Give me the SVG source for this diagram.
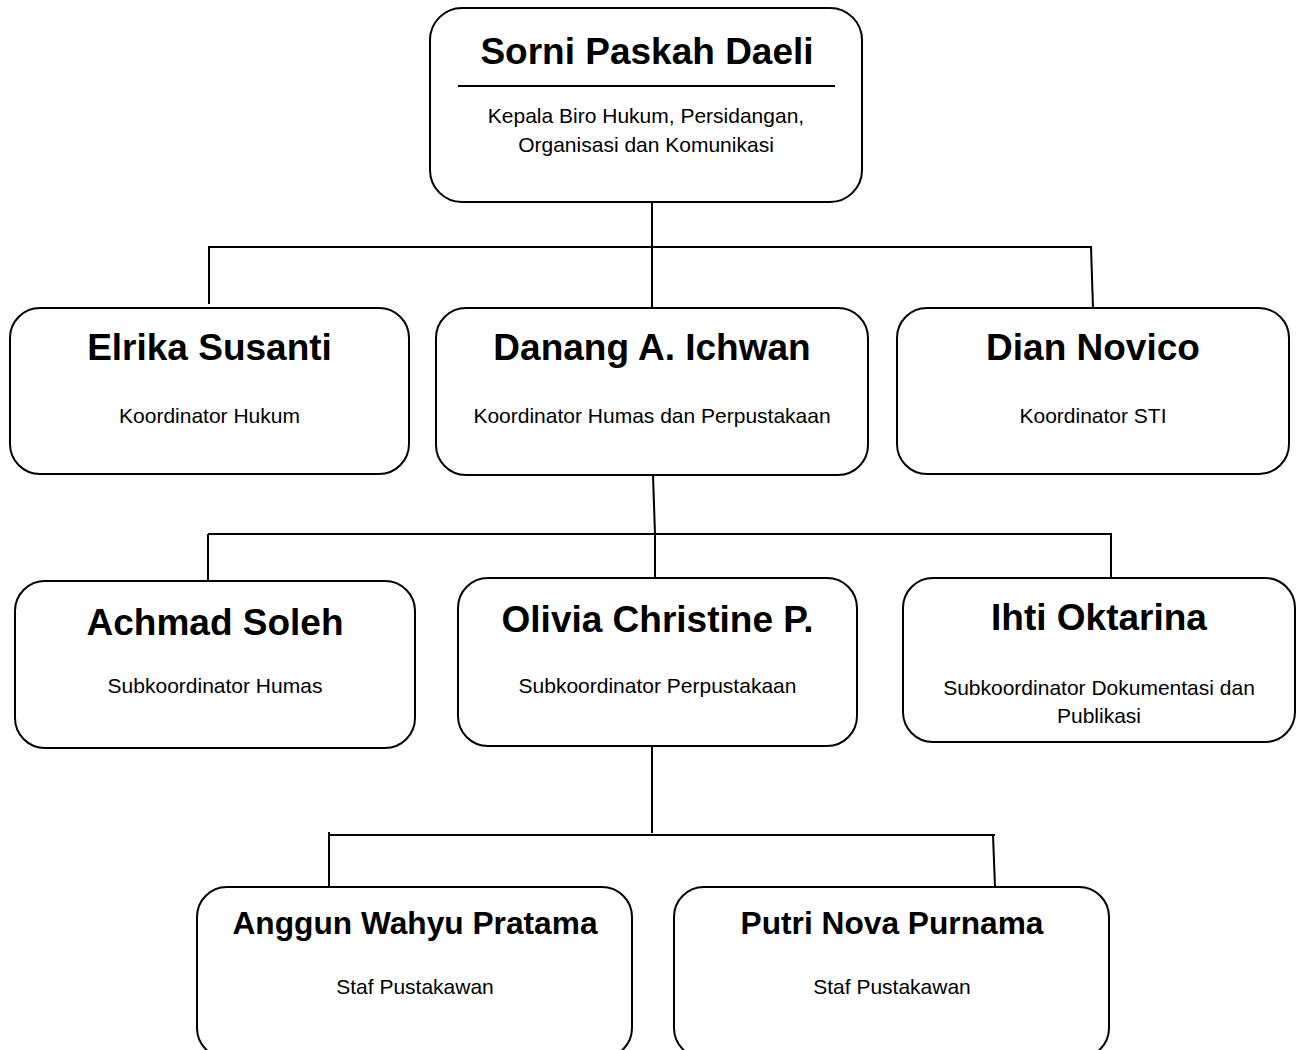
<svg xmlns="http://www.w3.org/2000/svg" width="1301" height="1050" viewBox="0 0 1301 1050">
<style>
  .box { fill: #fff; stroke: #000; stroke-width: 2; }
  .conn line { stroke: #000; stroke-width: 2; fill: none; }
  .title { font-family: "Liberation Sans", Arial, sans-serif; font-weight: bold; font-size: 37px; text-anchor: middle; fill: #000; }
  .title2 { font-family: "Liberation Sans", Arial, sans-serif; font-weight: bold; font-size: 31.7px; text-anchor: middle; fill: #000; }
  .sub { font-family: "Liberation Sans", Arial, sans-serif; font-size: 21px; text-anchor: middle; fill: #000; }
</style>
<rect width="1301" height="1050" fill="#fff"/>
<g id="connectors" class="conn">
  <line x1="652" y1="202" x2="652" y2="308"/>
  <line x1="208" y1="247" x2="1092" y2="247"/>
  <line x1="209" y1="247" x2="209" y2="304"/>
  <line x1="1091" y1="247" x2="1093" y2="308"/>
  <line x1="653" y1="475" x2="655" y2="534"/>
  <line x1="655" y1="534" x2="655" y2="578"/>
  <line x1="208" y1="534" x2="1112" y2="534"/>
  <line x1="208" y1="534" x2="208" y2="581"/>
  <line x1="1111" y1="534" x2="1111" y2="578"/>
  <line x1="652" y1="746" x2="652" y2="833"/>
  <line x1="329" y1="832" x2="329" y2="887"/>
  <line x1="329" y1="835" x2="995" y2="835"/>
  <line x1="993" y1="835" x2="995" y2="887"/>
</g>
<g id="node-sorni">
  <rect class="box" x="430" y="8" width="432" height="194" rx="32"/>
  <text class="title" x="647" y="64">Sorni Paskah Daeli</text>
  <line x1="458" y1="86" x2="835" y2="86" stroke="#000" stroke-width="2"/>
  <text class="sub" x="646" y="123">Kepala Biro Hukum, Persidangan,</text>
  <text class="sub" x="646" y="152">Organisasi dan Komunikasi</text>
</g>
<g id="node-elrika">
  <rect class="box" x="10" y="308" width="399" height="166" rx="30"/>
  <text class="title" x="209.5" y="360">Elrika Susanti</text>
  <text class="sub" x="209.5" y="423">Koordinator Hukum</text>
</g>
<g id="node-danang">
  <rect class="box" x="436" y="308" width="432" height="167" rx="30"/>
  <text class="title" x="652" y="360">Danang A. Ichwan</text>
  <text class="sub" x="652" y="423">Koordinator Humas dan Perpustakaan</text>
</g>
<g id="node-dian">
  <rect class="box" x="897" y="308" width="392" height="166" rx="30"/>
  <text class="title" x="1093" y="360">Dian Novico</text>
  <text class="sub" x="1093" y="423">Koordinator STI</text>
</g>
<g id="node-achmad">
  <rect class="box" x="15" y="581" width="400" height="167" rx="30"/>
  <text class="title" x="215" y="635">Achmad Soleh</text>
  <text class="sub" x="215" y="693">Subkoordinator Humas</text>
</g>
<g id="node-olivia">
  <rect class="box" x="458" y="578" width="399" height="168" rx="30"/>
  <text class="title" x="657.5" y="632">Olivia Christine P.</text>
  <text class="sub" x="657.5" y="693">Subkoordinator Perpustakaan</text>
</g>
<g id="node-ihti">
  <rect class="box" x="903" y="578" width="392" height="164" rx="30"/>
  <text class="title" x="1099" y="630">Ihti Oktarina</text>
  <text class="sub" x="1099" y="695">Subkoordinator Dokumentasi dan</text>
  <text class="sub" x="1099" y="723">Publikasi</text>
</g>
<g id="node-anggun">
  <rect class="box" x="197" y="887" width="435" height="171" rx="30"/>
  <text class="title2" x="415" y="934">Anggun Wahyu Pratama</text>
  <text class="sub" x="415" y="994">Staf Pustakawan</text>
</g>
<g id="node-putri">
  <rect class="box" x="674" y="887" width="435" height="171" rx="30"/>
  <text class="title2" x="892" y="934">Putri Nova Purnama</text>
  <text class="sub" x="892" y="994">Staf Pustakawan</text>
</g>
</svg>
